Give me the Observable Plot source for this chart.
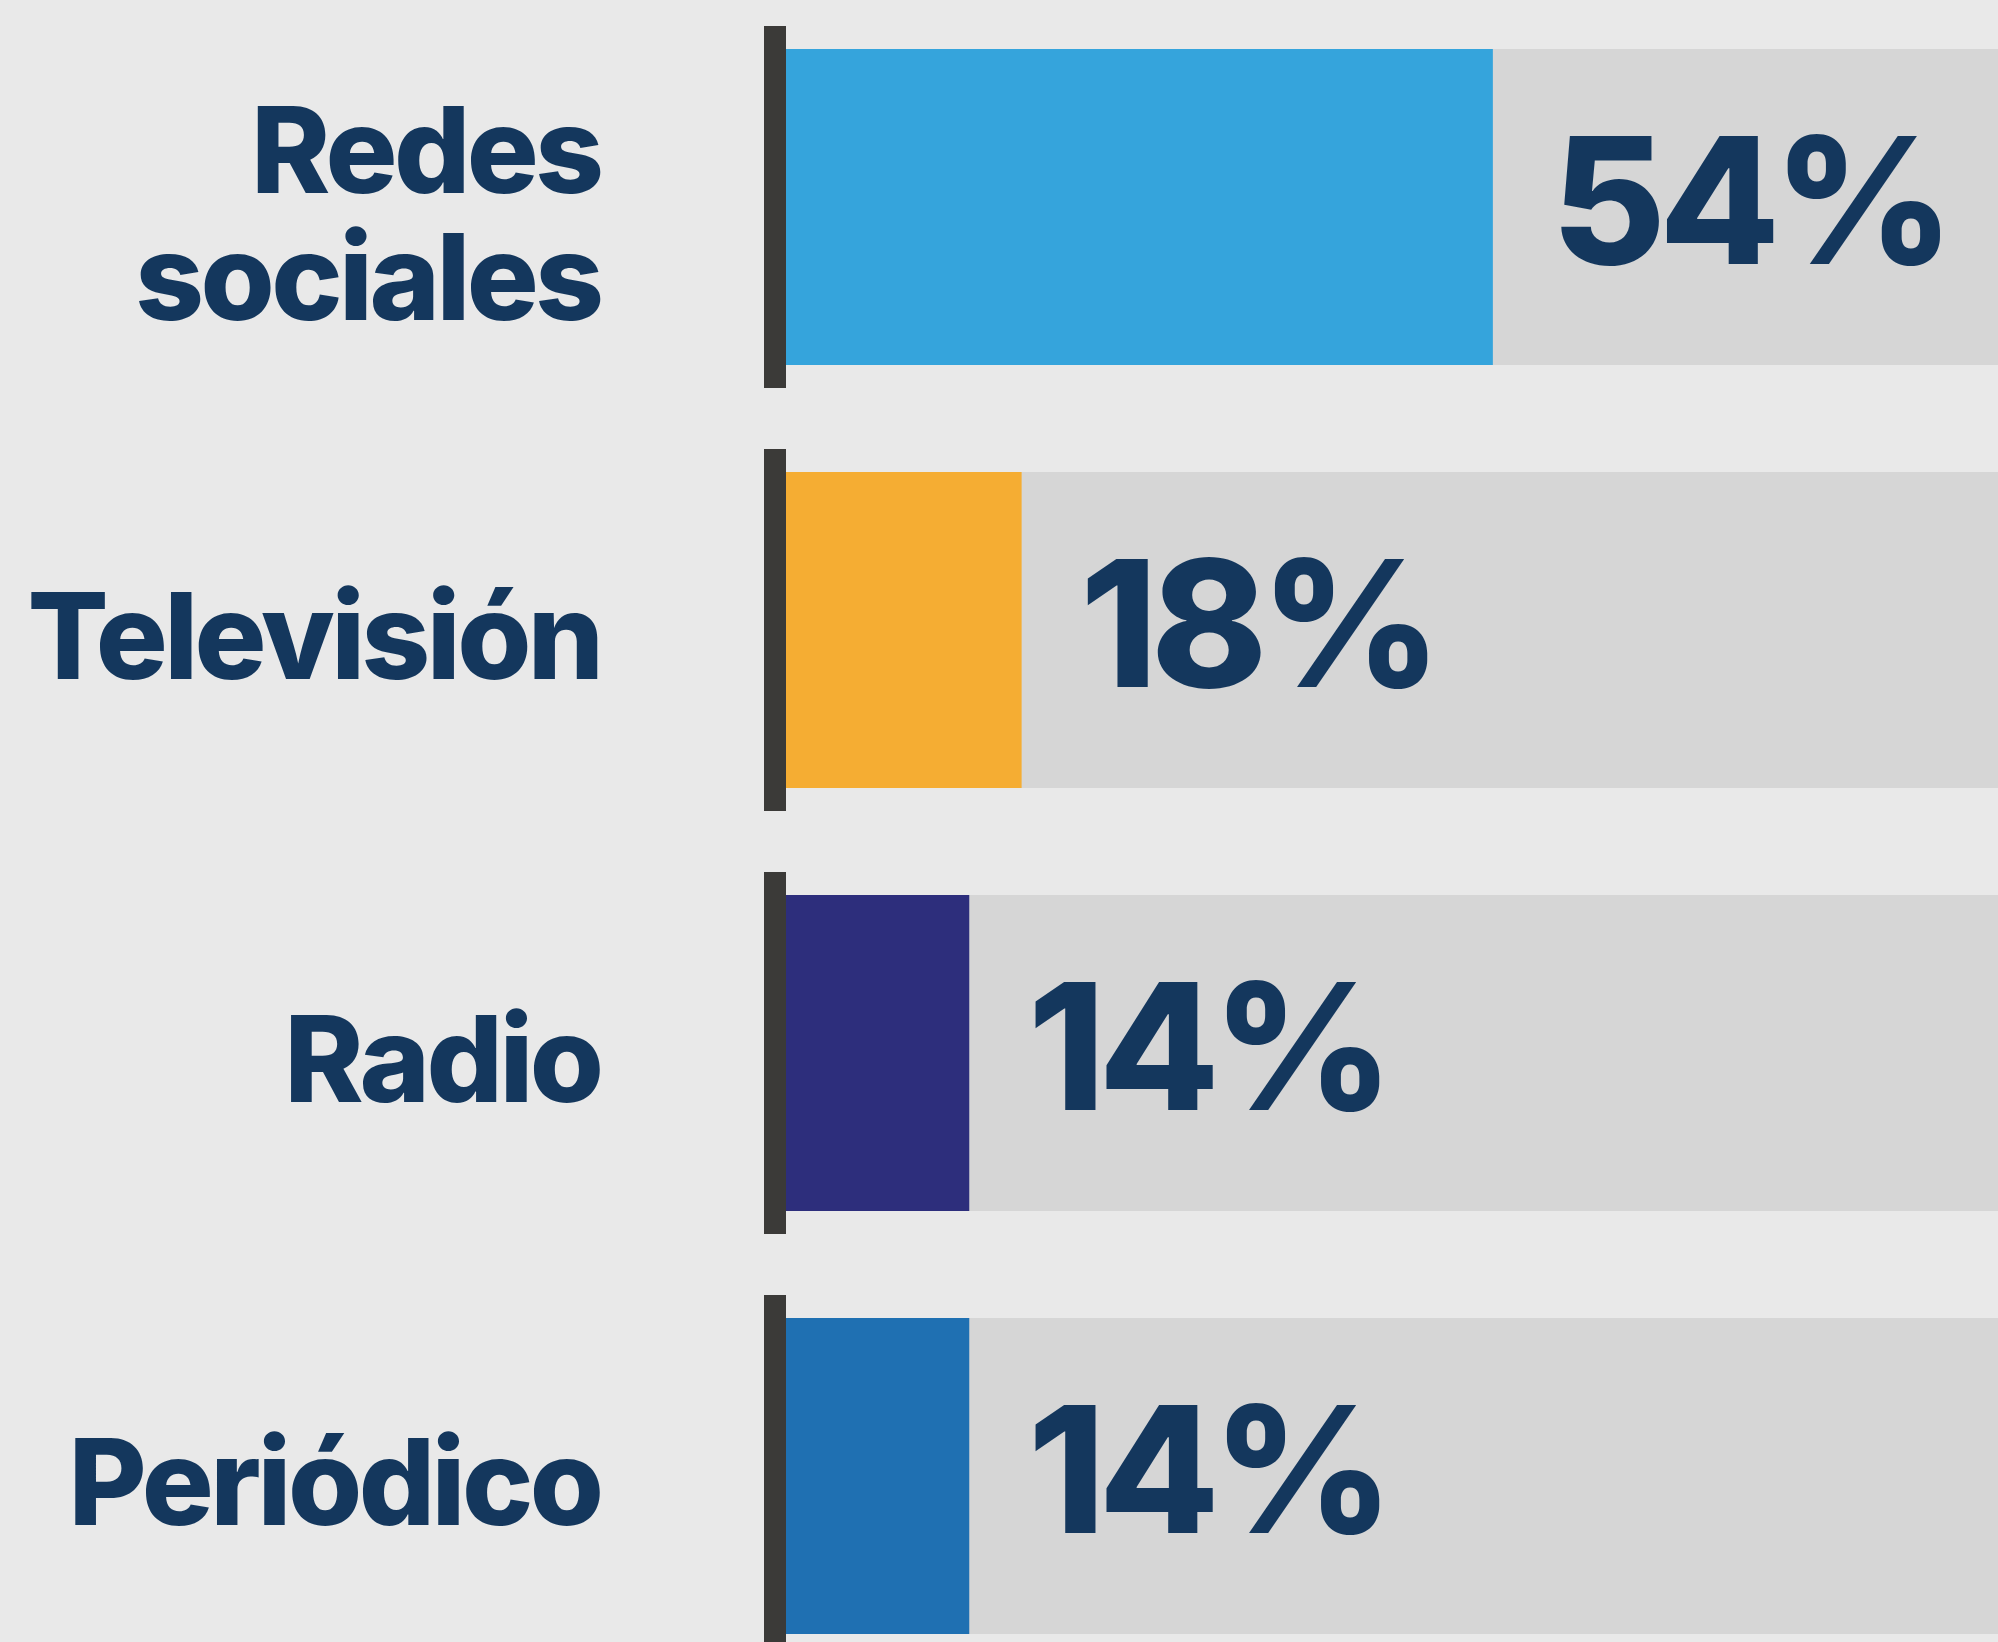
<!DOCTYPE html>
<html>
<head>
<meta charset="utf-8">
<script src="https://cdn.jsdelivr.net/npm/d3@7"></script>
<script src="https://cdn.jsdelivr.net/npm/@observablehq/plot@0.6"></script>
<style>
  html, body { margin: 0; padding: 0; background: #e9e9e9; overflow: hidden; }
  #chart { width: 1998px; height: 1642px; overflow: hidden; }
  #chart svg { overflow: hidden; display: block; }
  #chart g.cat-labels text { letter-spacing: -0.03em; }
  #chart g.pct-labels text { letter-spacing: -0.04em; }
</style>
</head>
<body>
<div id="chart"></div>
<script>
const categories = ["Redes\nsociales", "Televisión", "Radio", "Periódico"];
const values = [54, 18, 14, 14];
const colors = ["#35a4dc", "#f5ad33", "#2d2e7c", "#1f70b2"];
const labels = ["54%", "18%", "14%", "14%"];

const data = categories.map((c, i) => ({cat: c, value: values[i], color: colors[i], label: labels[i]}));

const navy = "#14375d";
const font = "Inter, 'Noto Sans', sans-serif";

const chart = Plot.plot({
  width: 1998,
  height: 1642,
  marginLeft: 0,
  marginRight: 0,
  marginTop: 0,
  marginBottom: 0,
  style: {background: "#e9e9e9", fontFamily: font, overflow: "hidden"},
  x: {domain: [0, 100], range: [786, 2095], axis: null},
  y: {domain: categories, paddingInner: 0.2535, paddingOuter: 0.0663, align: 0.856, axis: null},
  marks: [
    Plot.barX(data, {y: "cat", x1: 0, x2: 100, fill: "#d6d6d6"}),
    Plot.barX(data, {y: "cat", x1: 0, x2: "value", fill: "color"}),
    Plot.barX(data, {y: "cat", x1: 0, x2: 0, fill: "#3b3a38", insetLeft: -22, insetRight: 0, insetTop: -23, insetBottom: -23}),
    Plot.text(data, {
      x: 0, y: "cat", text: "cat", dx: -186, dy: 8, textAnchor: "end", lineHeight: 1.06,
      fill: navy, fontSize: 120, fontWeight: 800, fontFamily: font, className: "cat-labels"
    }),
    Plot.text(data, {
      x: "value", y: "cat", text: "label", dx: 58, textAnchor: "start",
      fill: navy, fontSize: 176, fontWeight: 800, fontFamily: font, className: "pct-labels"
    })
  ]
});
document.getElementById("chart").appendChild(chart);
</script>
</body>
</html>
